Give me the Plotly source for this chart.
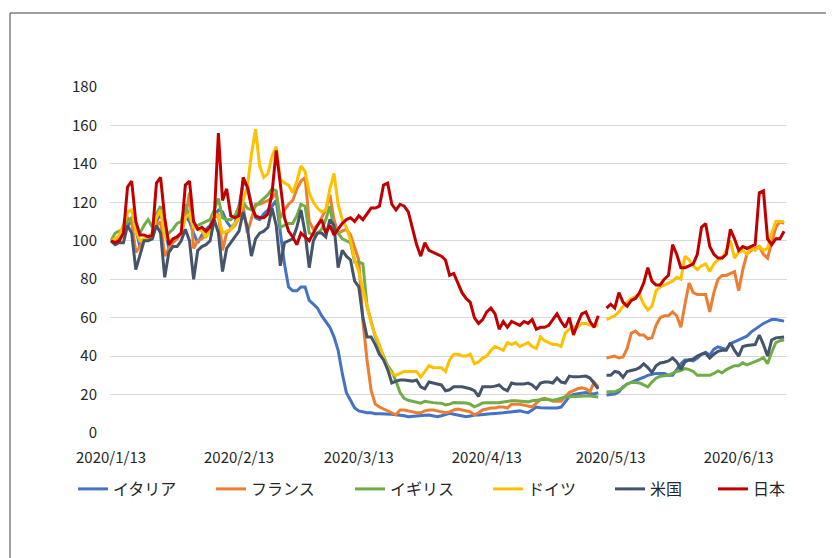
import pandas as pd
import plotly.graph_objects as go

# Daily index (2020/1/13 = 100), 164 days; 2020/5/11 is missing
dates = pd.date_range("2020-01-13", periods=164, freq="D")

italy = [
    100, 100, 102, 104, 108, 110, 106, 97, 100, 102,
    104, 110, 114, 107, 96, 100, 102, 104, 113, 110,
    104, 99, 103, 106, 108, 113, 116, 115, 110, 107,
    109, 118, 130, 129, 119, 112, 111, 114, 116, 118,
    121, 105, 88, 76, 74, 74, 76, 76, 69, 67,
    65, 61, 58, 55, 50, 43, 31, 21, 17, 13,
    11.5, 11, 10.5, 10.5, 10, 10, 10, 10, 9.8, 9.5,
    9.4, 9, 8.5, 8.6, 8.7, 9, 9.2, 9.4, 9, 8.5,
    9, 9.6, 10.2, 9.8, 9.4, 9, 8.5, 8.8, 9.4, 9.4,
    9.7, 10, 10, 10.2, 10.2, 10.5, 10.8, 11, 11.5, 11.5,
    11, 10.6, 12, 13.5, 13.2, 13, 13, 13, 13, 13.5,
    16, 19, 20, 20.3, 20.5, 21, 20.5, 20.3, 21, None,
    19.8, 20, 20.3, 21.4, 24, 25.5, 26.3, 27, 28, 29,
    30, 30.5, 31, 31, 31, 30, 30, 33, 36, 38,
    38, 37.5, 39, 41, 42, 40.5, 43.6, 44.8, 44, 43.5,
    46.5, 47.5, 48.5, 49.5, 50.4, 52.5, 54, 55.5, 57, 58,
    59, 59, 58.5, 58.2,
]

france = [
    100, 100, 102, 104, 112, 110, 94, 97, 100, 101,
    103, 108, 110, 92, 96, 99, 101, 104, 112, 125,
    96, 100, 101, 103, 105, 112, 114, 95, 104, 106,
    108, 112, 118, 104, 112, 119, 119, 120, 121, 122,
    125, 112, 116, 119, 121, 127, 131, 133, 110, 106,
    108, 112, 116, 124, 111, 104, 105, 106, 103, 96,
    90, 58, 38, 22, 15, 13.5, 12.5, 11.5, 10.5, 9.5,
    12, 12, 11.5, 11, 10.5, 10.5, 11.5, 12, 12, 11.5,
    11, 10.5, 11, 12, 12.5, 12, 11.5, 11, 9.5, 10.5,
    12, 12.5, 13, 13, 13.5, 13.5, 13, 15, 15, 15,
    14.5, 14, 13.5, 15.5, 17.5, 18, 17.5, 16.5, 16.5, 16.5,
    19, 21, 22, 23, 23.5, 23, 21.5, 26.5, 24, None,
    39, 39.5, 40, 39, 39.5, 44, 52, 53, 51, 51,
    49, 49.5, 56, 60, 61, 61, 63, 61, 55, 67,
    78, 73, 72, 72, 72, 63, 73, 80, 82, 82,
    83, 84, 74, 85, 93, 95, 96, 97, 93, 91,
    99, 107, 110, 109,
]

uk = [
    100, 104, 105, 106, 110, 112, 106, 104, 108, 111,
    107, 114, 118, 103, 104, 106, 109, 110, 119, 112,
    107, 108, 109, 110, 111, 116, 122, 112, 111, 111,
    113, 118, 120, 117, 116, 118, 120, 122, 124, 127,
    126, 107, 108, 109, 109, 113, 119, 118, 104, 103,
    104, 106, 111, 118, 106, 104, 101, 100, 99, 89,
    89, 88, 66, 58, 50, 45, 40, 35, 32, 27,
    21, 18, 17, 16.5, 16, 15.5, 16.5, 16, 15.8, 15.6,
    15.5, 14.6, 15, 15.8, 15.8, 15.6, 15.6, 15, 13.6, 14.5,
    15.6, 15.8, 15.8, 15.6, 15.8, 16.1, 16.6, 16.8, 16.8, 16.5,
    16.2, 16.2, 16.8, 17, 17.2, 17.5, 17.3, 17, 17.5, 18,
    18.7, 18.8, 19, 19, 19.2, 19.2, 19.3, 19, 18.7, None,
    21.4, 21.4, 21.4, 22.4, 23.5, 25.5, 26.3, 26.3, 26, 25,
    24, 26.5, 28.5, 29.5, 29.8, 30, 31, 32, 32.5, 33.5,
    33, 32, 30, 30, 29.7, 30, 31, 32.3, 31.3, 33,
    34, 35, 35, 36.5, 35.4, 36.2, 37, 38, 39.3, 36,
    42, 47, 48, 48.5,
]

germany = [
    100, 101, 103, 108, 115, 116, 105, 100, 101, 102,
    104, 112, 116, 102, 100, 101, 102, 104, 112, 114,
    107, 106, 105, 102, 105, 114, 113, 104, 105, 106,
    109, 112, 121, 128, 145, 158, 139, 133, 135, 144,
    149, 132, 130, 129, 125, 131, 139, 136, 125, 120,
    117, 115, 116, 127, 135, 119, 111, 107, 100, 90,
    84, 75, 66, 57, 51, 46, 39, 34, 31, 30,
    31, 32, 32, 32, 32, 29, 32, 35, 34, 34,
    34, 32, 38, 41, 41, 40, 40, 41, 36, 37,
    39, 40, 43, 45, 44, 43, 47, 46, 47, 45,
    46, 47, 45, 44, 50, 48, 47, 46, 46, 45,
    52, 54, 55, 55, 57, 57, 56, 56, 56, None,
    59, 60, 61, 63, 66, 68, 70, 71, 72, 67,
    64, 66, 74, 76, 77, 78, 79, 81, 80, 92,
    90, 87, 85, 87, 88, 84, 88, 90, 91, 95,
    100, 91, 94, 95, 93, 96, 95, 97, 95, 96,
    104, 110, 110, 110,
]

usa = [
    100, 98, 99, 99, 108, 104, 85, 93, 100, 100,
    101, 108, 104, 81, 94, 97, 97, 100, 106, 100,
    80, 95, 97, 98, 100, 111, 104, 84, 96, 99,
    102, 105, 115, 107, 92, 101, 104, 105, 107, 117,
    108, 87, 99, 100, 101, 107, 116, 104, 86, 100,
    104, 104, 102, 111, 108, 86, 95, 92, 90, 79,
    76, 60, 50, 50, 46, 41, 38, 33, 26, 27,
    27.6, 27.6, 27.3, 27, 27.6, 24, 23, 26.5, 26, 25.5,
    25, 22, 22.5, 24, 24, 24, 23.5, 23, 22, 19,
    24, 24, 24, 24.4, 25, 23, 22, 26, 25.5, 25.5,
    25.5, 26, 25, 23, 26, 26.5, 26.5, 26, 28.6, 26.5,
    26, 29.6, 29.2, 29.2, 29.4, 29.6, 28.6, 26, 23, None,
    30, 30, 32, 31.5, 29, 32, 32.5, 33, 34, 36,
    34, 31.5, 35, 36.4, 36.8, 37.5, 39, 37, 33, 37,
    38, 38.5, 40, 41, 41.5, 39, 41, 42.5, 43, 43,
    47, 43, 40, 45, 45.5, 45.6, 46, 51, 46, 40,
    48.4, 49.5, 49.8, 50,
]

japan = [
    100, 99, 100, 104, 128, 131, 110, 103, 103, 102,
    103, 130, 133, 112, 98, 101, 102, 104, 129, 131,
    110, 106, 107, 105, 107, 112, 156, 121, 127, 113,
    112, 113, 133, 128, 118, 113, 112, 112, 114, 125,
    147, 128, 112, 105, 102, 98, 104, 102, 100, 104,
    108, 111, 104, 108, 103, 106, 109, 111, 112, 110,
    113, 111, 114, 117, 117, 118, 129, 130, 119, 116,
    119, 118, 115, 106, 98, 92, 99, 95, 94, 93,
    92, 90, 82, 83, 78, 73, 70, 68, 60, 57,
    59, 63, 65, 62, 54, 58, 55, 58, 57, 56,
    58, 57, 59, 54, 55, 55, 56, 59, 62, 58,
    55, 60, 51, 57, 62, 63, 58, 55, 61, None,
    65, 67, 65, 73, 68, 66, 69, 70, 73, 78,
    86, 79, 77, 77, 80, 82, 98, 93, 86, 86,
    87, 88, 93, 107, 109, 97, 93, 91, 91, 93,
    106, 101, 95, 97, 96, 97, 98, 125, 126, 101,
    98, 101, 101, 105,
]

names = ["イタリア", "フランス", "イギリス", "ドイツ", "米国", "日本"]
colors = ["#4472C4", "#ED7D31", "#70AD47", "#FFC000", "#44546A", "#C00000"]
values = [italy, france, uk, germany, usa, japan]

tick_vals = ["2020-01-13", "2020-02-13", "2020-03-13", "2020-04-13", "2020-05-13", "2020-06-13"]
tick_text = ["2020/1/13", "2020/2/13", "2020/3/13", "2020/4/13", "2020/5/13", "2020/6/13"]
y_ticks = list(range(0, 181, 20))

# pixel geometry (the page puts the figure 8px in from the top-left corner)
W, H = 834, 558
OFF = 8
L, R, T, B = 110 - OFF, 787 - OFF, 87 - OFF, 433 - OFF


def px_x(px):
    return (px - OFF - L) / (R - L)


def px_y(py):
    return (B - (py - OFF)) / (B - T)


font_family = "Noto Sans CJK JP"
text_color = "#262626"

fig = go.Figure()

legend_starts = [78, 216, 355, 493, 615, 718]
legend_layout = {}
for i, (name, vals, col) in enumerate(zip(names, values, colors)):
    key = "legend" if i == 0 else f"legend{i + 1}"
    fig.add_trace(go.Scatter(
        x=dates, y=vals, name=name, mode="lines",
        line=dict(color=col, width=3),
        legend=key,
    ))
    legend_layout[key] = dict(
        x=px_x(legend_starts[i] - 5), y=px_y(489),
        xanchor="left", yanchor="middle",
        orientation="h",
        bgcolor="rgba(0,0,0,0)", borderwidth=0,
        font=dict(family=font_family, size=16, color=text_color),
    )

fig.update_layout(
    width=W, height=H,
    margin=dict(l=L, r=W - R, t=T, b=H - B, pad=0),
    paper_bgcolor="white",
    plot_bgcolor="white",
    showlegend=True,
    font=dict(family=font_family, size=15, color=text_color),
    xaxis=dict(
        type="date",
        range=[dates[0] - pd.Timedelta(hours=6), dates[-1] + pd.Timedelta(hours=17)],
        tickvals=tick_vals, ticktext=tick_text,
        showgrid=False, zeroline=False, showline=False,
        ticks="", ticklabelstandoff=14,
        tickfont=dict(size=15, color=text_color),
    ),
    yaxis=dict(
        range=[0, 180], tickvals=y_ticks,
        showgrid=True, gridcolor="#D9D9D9", gridwidth=1,
        zeroline=False, showline=False,
        ticks="", ticklabelstandoff=12,
        tickfont=dict(size=15, color=text_color),
    ),
    shapes=[
        # chart-area border (cropped at the bottom of the picture)
        dict(type="line", xref="paper", yref="paper",
             x0=px_x(10), y0=px_y(13), x1=px_x(842), y1=px_y(13),
             line=dict(color="#404040", width=1)),
        dict(type="line", xref="paper", yref="paper",
             x0=px_x(10), y0=px_y(13), x1=px_x(10), y1=px_y(566),
             line=dict(color="#404040", width=1)),
    ],
    **legend_layout,
)

fig.write_html("out.html")
